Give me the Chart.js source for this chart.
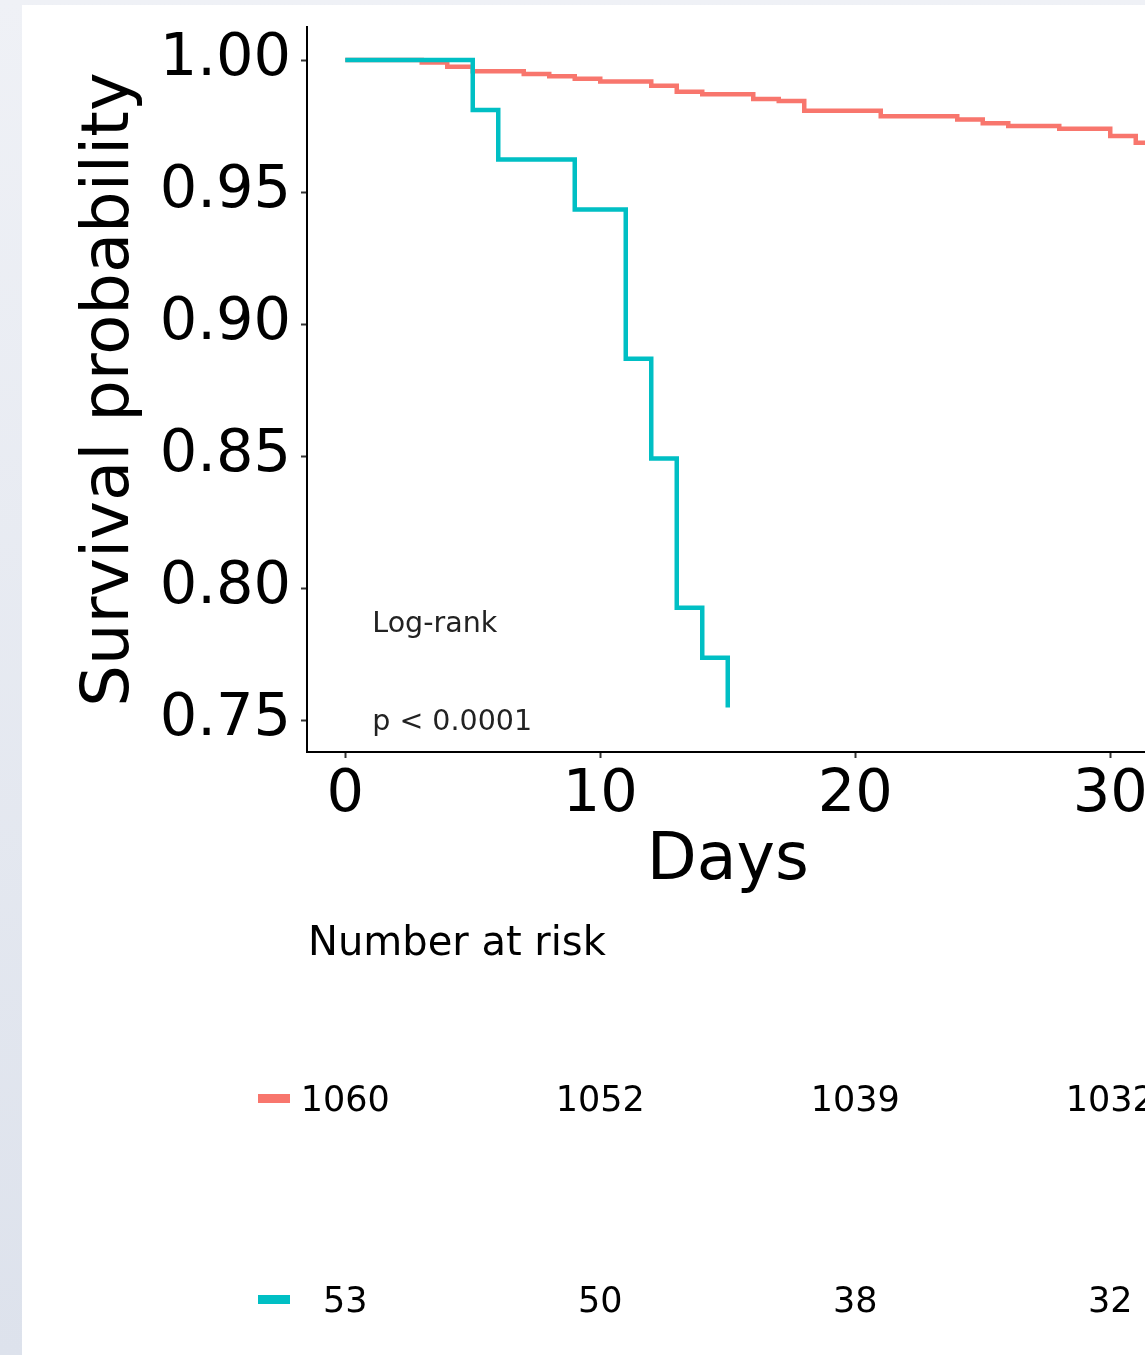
<!DOCTYPE html>
<html>
<head>
<meta charset="utf-8">
<script src="https://cdn.jsdelivr.net/npm/chart.js@4.4.0/dist/chart.umd.min.js"></script>
<style>
    html, body { margin: 0; padding: 0; overflow: hidden; }
    body { width: 1145px; height: 1355px; background: linear-gradient(#eff1f6, #dde2ec); }
    #wrap { position: absolute; left: 22px; top: 5px; width: 1200px; height: 1350px; background: #fff; }
</style>
</head>
<body>
<div id="wrap"><canvas id="km" width="1200" height="1350"></canvas></div>
<script>
// Kaplan-Meier curves (step times in days, survival)
const daysRed = [0, 3, 4, 5, 7, 8, 9, 10, 12, 13, 14, 16, 17, 18, 21, 24, 25, 26, 28, 30, 31, 31.5];
const survRed = [1, 0.9991, 0.9974, 0.9957, 0.9947, 0.9938, 0.9929, 0.9919, 0.9902, 0.9880, 0.9870, 0.9852, 0.9845, 0.9808, 0.9787, 0.9775, 0.9760, 0.9750, 0.9740, 0.9712, 0.9687, 0.9687];
const daysTeal = [0, 5, 6, 9, 11, 12, 13, 14, 15];
const survTeal = [1, 0.9811, 0.9623, 0.9434, 0.8868, 0.8491, 0.7925, 0.7736, 0.7547];

const xTicks = [0, 10, 20, 30];
const yTicks = [0.75, 0.80, 0.85, 0.90, 0.95, 1.00];

// Number at risk table
const riskTimes = [0, 10, 20, 30];
const riskRed = [1060, 1052, 1039, 1032];
const riskTeal = [53, 50, 38, 32];

const RED = '#F8766D';
const TEAL = '#00BFC4';
const FONT = 'DejaVu Sans';

const toPoints = (xs, ys) => xs.map((d, i) => ({ x: d, y: ys[i] }));

const extras = {
    id: 'extras',
    afterDraw(chart) {
        const { ctx, scales: { x, y } } = chart;
        ctx.save();

        // log-rank annotation
        ctx.fillStyle = '#222';
        ctx.font = '28.5px "' + FONT + '"';
        ctx.textAlign = 'left';
        ctx.textBaseline = 'alphabetic';
        ctx.fillText('Log-rank', x.getPixelForValue(1.06), y.getPixelForValue(0.7834));
        ctx.fillText('p < 0.0001', x.getPixelForValue(1.06), y.getPixelForValue(0.7462));

        // risk table
        ctx.fillStyle = '#000';
        ctx.textBaseline = 'middle';
        ctx.font = '40px "' + FONT + '"';
        ctx.fillText('Number at risk', x.left + 1, 940);

        ctx.textAlign = 'center';
        ctx.font = '35px "' + FONT + '"';
        riskTimes.forEach((t, i) => {
            const px = x.getPixelForValue(t);
            ctx.fillText(riskRed[i], px, 1097);
            ctx.fillText(riskTeal[i], px, 1298);
        });

        ctx.fillStyle = RED;
        ctx.fillRect(236, 1089, 32, 9);
        ctx.fillStyle = TEAL;
        ctx.fillRect(236, 1290, 32, 9);
        ctx.restore();
    }
};

new Chart(document.getElementById('km'), {
    type: 'line',
    data: {
        datasets: [
            {
                label: 'Group 2',
                data: toPoints(daysTeal, survTeal),
                borderColor: TEAL,
                borderWidth: 4.5,
                stepped: 'before',
                pointRadius: 0,
                borderCapStyle: 'butt',
                fill: false
            },
            {
                label: 'Group 1',
                data: toPoints(daysRed, survRed),
                borderColor: RED,
                borderWidth: 4.5,
                stepped: 'before',
                pointRadius: 0,
                borderCapStyle: 'butt',
                fill: false
            }
        ]
    },
    options: {
        responsive: false,
        animation: false,
        layout: { padding: { left: 0, top: 22, right: 73.5, bottom: 453 } },
        plugins: { legend: { display: false }, tooltip: { enabled: false } },
        scales: {
            x: {
                type: 'linear',
                min: -1.5,
                max: 31.5,
                afterBuildTicks: s => { s.ticks = xTicks.map(v => ({ value: v })); },
                afterFit: s => { s.height = 150; s.paddingLeft = 0; s.paddingRight = 0; },
                grid: { drawOnChartArea: false, color: '#333', tickLength: 6, tickWidth: 2 },
                border: { color: '#000', width: 2 },
                ticks: { color: '#000', font: { family: FONT, size: 59 }, padding: 2, maxRotation: 0 },
                title: { display: true, text: 'Days', color: '#000', font: { family: FONT, size: 65 }, padding: { bottom: 1 } }
            },
            y: {
                type: 'linear',
                min: 0.73788,
                max: 1.0125,
                afterBuildTicks: s => { s.ticks = yTicks.map(v => ({ value: v })); },
                afterFit: s => { s.width = 285; s.paddingTop = 0; s.paddingBottom = 0; },
                grid: { drawOnChartArea: false, color: '#333', tickLength: 6, tickWidth: 2 },
                border: { color: '#000', width: 2 },
                ticks: { color: '#000', font: { family: FONT, size: 59 }, padding: 10, callback: v => v.toFixed(2) },
                title: { display: true, text: 'Survival probability', color: '#000', font: { family: FONT, size: 65.5 }, padding: { top: 50 } }
            }
        }
    },
    plugins: [extras]
});
</script>
</body>
</html>
